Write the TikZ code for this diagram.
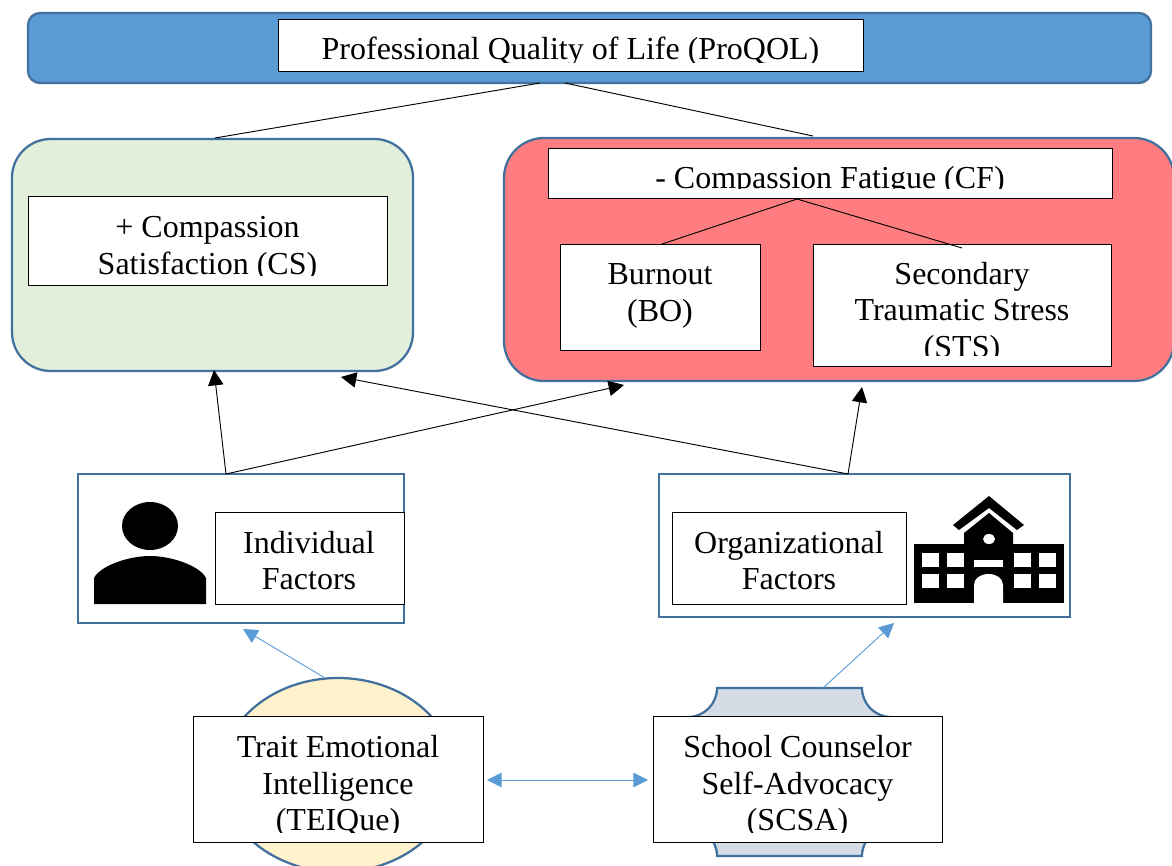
\documentclass[tikz,border=0pt]{standalone}
\usepackage{fontspec}
\setmainfont{Liberation Serif}
\usetikzlibrary{arrows.meta,shapes.geometric}
\definecolor{barBlue}{HTML}{5B9BD5}
\definecolor{edgeBlue}{HTML}{41719C}
\definecolor{csGreen}{HTML}{E2EFDA}
\definecolor{cfRed}{HTML}{FF7C80}
\definecolor{eiYellow}{HTML}{FFF2CC}
\definecolor{scsaGray}{HTML}{D6DCE5}
\tikzset{
    wh/.style 2 args={minimum width=#1*0.75pt,minimum height=#2*0.75pt},
    outer/.style={draw=edgeBlue,line width=1.7pt},
    box/.style={draw=black,fill=white,line width=0.65pt,inner sep=0pt},
    txt/.style={font=\fontsize{24}{27.5}\selectfont,align=center,inner sep=0pt},
    link/.style={draw=black,line width=0.7pt},
    push/.style={link,-{Triangle[length=11.5pt,width=11.5pt]}},
    blueArrow/.style={draw=barBlue,line width=0.7pt,-{Triangle[length=11pt,width=11pt]}}
}
\begin{document}
\begin{tikzpicture}[x=0.75pt,y=-0.75pt]
    \useasboundingbox (0,0) rectangle (1172,865);
    \clip (0,0) rectangle (1172,865);

    % Containers
    \node[outer,fill=barBlue,rounded corners=9pt,wh={1123}{70}] (bar) at (589.5,48) {};
    \node[outer,fill=csGreen,rounded corners=29pt,wh={401}{232}] (csArea) at (212.5,255) {};
    \node[outer,fill=cfRed,rounded corners=30pt,wh={670}{243}] (cfArea) at (839,259.5) {};
    \node[outer,wh={326}{149}] (indArea) at (241,548.5) {};
    \node[outer,wh={411}{143}] (orgArea) at (864.5,545.5) {};

    % Ellipse and plaque behind the lower boxes
    \node[outer,fill=eiYellow,ellipse,wh={234}{194}] (eiShape) at (338,775) {};
    \draw[outer,fill=scsaGray] (688,717) .. controls (704,717) and (717,704) .. (717,688)
        -- (862,688) .. controls (862,704) and (875,717) .. (891,717)
        -- (891,827) .. controls (875,827) and (862,840) .. (862,856)
        -- (717,856) .. controls (717,840) and (704,827) .. (688,827) -- cycle;

    % White boxes
    \node[box,wh={585}{52}] (title) at (570.5,45) {};
    \node[box,wh={359}{89}] (cs) at (207.5,240.5) {};
    \node[box,wh={564}{50}] (cf) at (830,173) {};
    \node[box,wh={200}{106}] (bo) at (660,297) {};
    \node[box,wh={298}{122}] (sts) at (962,305) {};
    \node[box,wh={189}{92}] (ind) at (309.5,558) {};
    \node[box,wh={234}{92}] (org) at (789,558) {};
    \node[box,wh={290}{126}] (ei) at (338,779) {};
    \node[box,wh={289}{126}] (scsa) at (797.5,779) {};

    % Labels, some cut off by their box
    \begin{scope}
        \clip (278,19) rectangle (863,62);
        \node[txt] (titleText) at (570.5,52) {Professional Quality of Life (ProQOL)};
    \end{scope}
    \begin{scope}
        \clip (28,196) rectangle (387,275);
        \node[txt] (csText) at (207.5,248.5) {+ Compassion\\Satisfaction (CS)};
    \end{scope}
    \begin{scope}
        \clip (548,148) rectangle (1112,188);
        \node[txt] (cfText) at (830,181) {- Compassion Fatigue (CF)};
    \end{scope}
    \node[txt] (boText) at (660,296) {Burnout\\(BO)};
    \begin{scope}
        \clip (813,244) rectangle (1111,355);
        \node[txt] (stsText) at (962,313) {Secondary\\Traumatic Stress\\(STS)};
    \end{scope}
    \node[txt] (indText) at (309,560.5) {Individual\\Factors};
    \node[txt] (orgText) at (789,560.5) {Organizational\\Factors};
    \begin{scope}
        \clip (193,716) rectangle (483,832);
        \node[txt] (eiText) at (338,786.5) {Trait Emotional\\Intelligence\\(TEIQue)};
    \end{scope}
    \begin{scope}
        \clip (653,716) rectangle (942,832);
        \node[txt] (scsaText) at (797.5,786.5) {School Counselor\\Self-Advocacy\\(SCSA)};
    \end{scope}

    % Person
    \fill (150,526) ellipse[x radius=28,y radius=24];
    \fill (94,604) -- (94,578) .. controls (100,566) and (128,556) .. (150,556)
        .. controls (172,556) and (200,566) .. (206,578) -- (206,604) -- cycle;

    % School
    \fill (914,544) rectangle (1064,603);
    \fill (964,544) -- (964,533) -- (989,513) -- (1013,533) -- (1013,544) -- cycle;
    \fill (953,525) -- (989,496) -- (1024,525) -- (1017,530) -- (989,508) -- (959,530) -- cycle;
    \fill[white] (989,539) ellipse[x radius=6,y radius=5];
    \fill[white] (974,560) rectangle (1003,567);
    \fill[white] (974,603) -- (974,585) .. controls (974,578) and (981,574) .. (988.5,574)
        .. controls (996,574) and (1003,578) .. (1003,585) -- (1003,603) -- cycle;
    \foreach \x in {922,947,1014,1039}
        \foreach \y in {553,574}
            \fill[white] (\x,\y) rectangle (\x+17,\y+14);

    % Connectors
    \coordinate (barLeft) at (540,83);
    \coordinate (barRight) at (565,83);
    \coordinate (csTop) at (215,138);
    \coordinate (cfTop) at (813,136);
    \coordinate (cfFoot) at (797,199);
    \coordinate (boTop) at (662,244);
    \coordinate (stsTop) at (962,248);
    \coordinate (indTop) at (226,474);
    \coordinate (orgTop) at (848,474);
    \draw[link] (barLeft) -- (csTop);
    \draw[link] (barRight) -- (cfTop);
    \draw[link] (cfFoot) -- (boTop);
    \draw[link] (cfFoot) -- (stsTop);

    \coordinate (csFoot) at (214,370);
    \coordinate (csFootRight) at (341,377);
    \coordinate (cfFootLeft) at (624,385);
    \coordinate (cfFootRight) at (862,387);
    \draw[push] (indTop) -- (csFoot);
    \draw[push] (indTop) -- (cfFootLeft);
    \draw[push] (orgTop) -- (csFootRight);
    \draw[push] (orgTop) -- (cfFootRight);

    \coordinate (eiTop) at (325,678);
    \coordinate (indFoot) at (243,629);
    \coordinate (scsaTop) at (823,688);
    \coordinate (orgFoot) at (894,623);
    \coordinate (eiRight) at (487,780);
    \coordinate (scsaLeft) at (648,780);
    \draw[blueArrow] (eiTop) -- (indFoot);
    \draw[blueArrow] (scsaTop) -- (orgFoot);
    \draw[blueArrow,{Triangle[length=11pt,width=11pt]}-{Triangle[length=11pt,width=11pt]}] (eiRight) -- (scsaLeft);
\end{tikzpicture}
\end{document}
